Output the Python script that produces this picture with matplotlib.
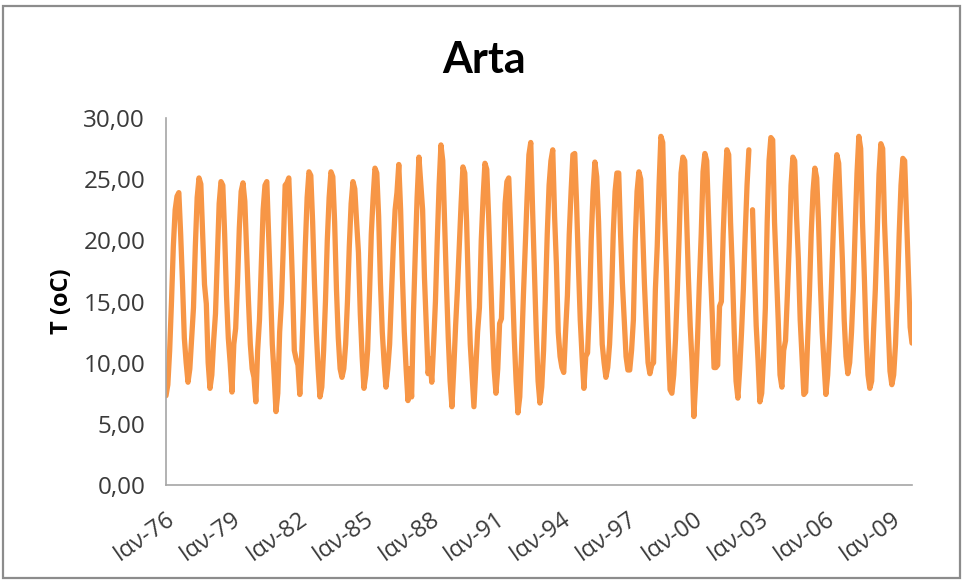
import numpy as np
import matplotlib
matplotlib.use("Agg")
import matplotlib.pyplot as plt
from matplotlib.patches import Rectangle

# Monthly mean air temperature at Arta (°C), January 1976 - December 2009
temps_1976_1979 = [
    7.3, 8.2, 11.0, 15.0, 19.5, 22.5, 23.6, 23.9, 20.5, 16.5, 12.0, 10.0,
    8.4, 9.5, 12.0, 14.5, 19.5, 23.5, 25.1, 24.6, 20.5, 16.4, 14.8, 10.0,
    7.9, 9.0, 11.8, 14.0, 18.5, 23.0, 24.8, 24.5, 20.5, 15.5, 12.0, 10.0,
    7.6, 11.5, 12.8, 16.5, 21.0, 24.0, 24.7, 23.2, 19.0, 15.0, 11.5, 9.5,
]
temps_1980s = [
    8.8, 6.8, 11.0, 13.5, 18.0, 22.5, 24.5, 24.8, 20.5, 16.0, 11.5, 9.0,
    6.0, 7.5, 12.5, 15.0, 19.5, 24.5, 24.7, 25.1, 21.0, 16.5, 11.0, 10.3,
    9.8, 7.4, 10.5, 14.5, 19.5, 23.5, 25.6, 25.3, 21.5, 16.5, 12.5, 9.5,
    7.2, 8.0, 11.0, 15.0, 20.0, 23.5, 25.6, 25.2, 21.5, 16.0, 12.0, 9.5,
    8.8, 9.5, 11.5, 15.0, 19.5, 23.0, 24.8, 24.2, 21.5, 19.0, 14.0, 10.5,
    7.9, 9.0, 11.0, 15.5, 20.5, 23.5, 25.9, 25.5, 22.0, 16.5, 12.5, 10.0,
    8.0, 9.5, 11.5, 15.5, 19.5, 22.5, 23.9, 26.2, 22.5, 17.0, 12.5, 9.5,
    6.9, 9.5, 7.2, 14.0, 19.0, 23.5, 26.8, 24.6, 22.5, 17.0, 13.0, 9.1,
    10.3, 8.4, 11.5, 15.0, 20.0, 24.5, 27.8, 26.5, 21.5, 16.5, 12.0, 8.5,
    6.4, 9.5, 13.0, 16.0, 19.5, 23.0, 26.0, 25.5, 21.5, 16.0, 11.5, 9.0,
]
temps_1990s = [
    6.4, 9.5, 12.5, 14.5, 20.0, 23.5, 26.3, 25.8, 22.0, 17.5, 13.0, 9.5,
    7.5, 9.5, 13.2, 13.6, 18.0, 23.0, 24.8, 25.1, 21.0, 16.5, 12.0, 8.5,
    5.9, 7.2, 11.0, 15.5, 19.5, 23.5, 27.0, 28.0, 22.5, 17.5, 12.5, 8.5,
    6.7, 8.0, 11.0, 15.5, 20.5, 24.5, 26.5, 27.4, 22.0, 18.0, 12.5, 10.5,
    9.6, 9.2, 12.5, 15.5, 20.5, 24.0, 27.0, 27.1, 23.0, 18.0, 13.5, 10.5,
    7.9, 10.5, 10.8, 14.5, 20.0, 24.0, 26.4, 25.2, 21.5, 16.0, 11.5, 10.0,
    8.8, 9.6, 11.5, 15.0, 20.5, 24.0, 25.5, 25.5, 20.5, 16.5, 13.5, 10.5,
    9.4, 9.4, 11.0, 13.5, 20.0, 24.0, 25.6, 25.0, 21.0, 16.5, 13.0, 10.0,
    9.1, 9.8, 10.0, 16.0, 19.5, 24.5, 28.5, 28.0, 22.0, 17.5, 12.0, 7.8,
    7.5, 9.0, 12.0, 16.0, 20.5, 25.5, 26.8, 26.5, 22.0, 17.0, 13.0, 10.0,
]
temps_2000s = [
    5.6, 8.5, 12.0, 16.5, 20.5, 25.6, 27.1, 26.5, 22.0, 17.5, 14.0, 9.6,
    9.6, 9.8, 14.6, 15.0, 20.5, 24.5, 27.4, 27.0, 21.5, 17.5, 12.5, 8.5,
    7.1, 9.5, 12.5, 16.0, 20.5, 24.5, 27.4, np.nan, 22.5, 17.5, 13.0, 10.2,
    6.8, 7.5, 10.5, 14.5, 21.5, 26.5, 28.4, 28.2, 21.5, 17.5, 13.5, 9.0,
    8.0, 11.0, 11.8, 15.5, 19.5, 24.5, 26.8, 26.5, 22.0, 18.5, 13.5, 10.5,
    7.4, 7.6, 11.5, 15.5, 20.5, 24.0, 25.9, 25.1, 21.5, 16.5, 12.5, 10.0,
    7.4, 9.0, 12.0, 16.0, 20.5, 24.5, 27.0, 26.3, 22.5, 18.5, 13.5, 10.5,
    9.1, 10.0, 12.5, 16.0, 21.0, 25.5, 28.5, 27.5, 21.5, 17.0, 12.0, 9.0,
    7.9, 8.5, 12.5, 16.0, 20.5, 25.4, 27.9, 27.5, 21.5, 17.5, 13.0, 9.3,
    8.2, 9.0, 11.5, 15.5, 20.5, 24.5, 26.7, 26.5, 22.0, 17.5, 12.9, 11.6,
]

first_year = 1976
tick_years = list(range(1976, 2010, 3))
tick_labels = ["Ιαν-%02d" % (y % 100) for y in tick_years]
y_ticks = [0, 5, 10, 15, 20, 25, 30]

temps = np.array(temps_1976_1979 + temps_1980s + temps_1990s + temps_2000s, dtype=float)
months = np.arange(len(temps))

line_color = "#F79646"
axis_color = "#A6A6A6"
text_color = "#3A3A3A"
font_list = ["Open Sans", "DejaVu Sans"]

fig = plt.figure(figsize=(9.63, 5.81), dpi=100)
fig.patch.set_facecolor("white")
ax = fig.add_axes([166 / 963, 1 - 485 / 581, (912 - 166) / 963, (485 - 118) / 581])

ax.plot(months, temps, color=line_color, lw=3.8, solid_joinstyle="round",
        solid_capstyle="round")

ax.set_xlim(0, len(temps) - 1)
ax.set_ylim(0, 30)

ax.set_yticks(y_ticks)
ax.set_yticklabels([("%.2f" % v).replace(".", ",") for v in y_ticks],
                   family=font_list, fontsize=17.5, color=text_color)
ax.set_xticks([(y - first_year) * 12 for y in tick_years])
ax.set_xticklabels(tick_labels, family=font_list, fontsize=17, color=text_color,
                   rotation=35, ha="right", va="top", rotation_mode="anchor")
ax.tick_params(axis="both", length=0)
ax.tick_params(axis="y", pad=15)
ax.tick_params(axis="x", pad=16)

for side in ("top", "right"):
    ax.spines[side].set_visible(False)
for side in ("left", "bottom"):
    ax.spines[side].set_color(axis_color)
    ax.spines[side].set_linewidth(1.2)

ax.set_ylabel("T (oC)", family=font_list, fontsize=17, fontweight="bold",
              color="black", labelpad=7)

fig.text(0.503, 0.897, "Arta", ha="center", va="center",
         family=["Lato", "DejaVu Sans"], fontsize=31, fontweight="bold", color="black")

# chart frame
fig.patches.append(Rectangle((3 / 963, 3 / 581), 1 - 6 / 963, 1 - 9 / 581,
                             transform=fig.transFigure, fill=False,
                             edgecolor="#8C8C8C", lw=1.6))

fig.savefig("out.png", dpi=100, facecolor="white")
